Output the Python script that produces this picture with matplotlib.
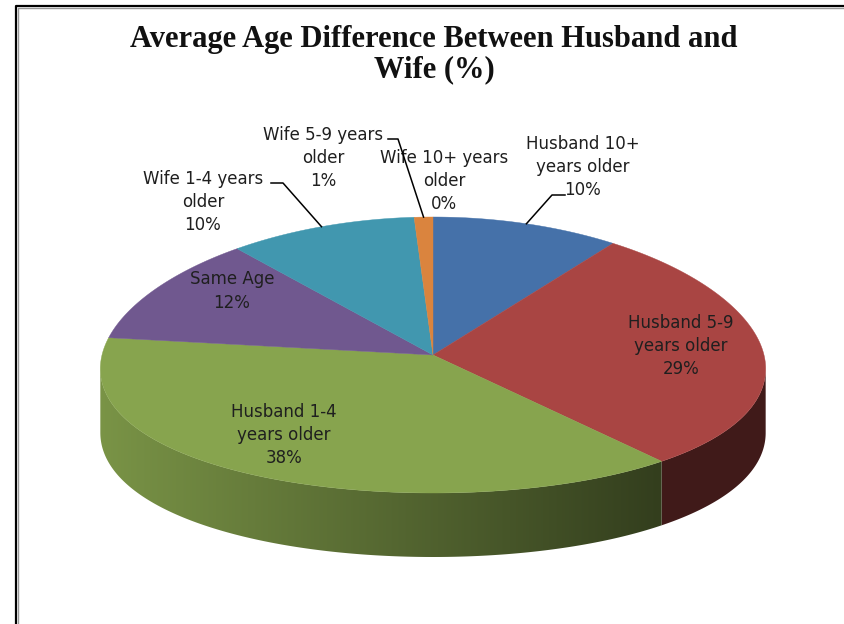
import numpy as np
import matplotlib
matplotlib.use('Agg')
from matplotlib import pyplot as plt
from matplotlib.patches import Polygon
from matplotlib.colors import to_rgb

# data
categories = ['Husband 10+ years older', 'Husband 5-9 years older',
              'Husband 1-4 years older', 'Same Age', 'Wife 1-4 years older',
              'Wife 5-9 years older', 'Wife 10+ years older']
shares = [10, 29, 38, 12, 10, 1, 0]
label_text = ['Husband 10+\nyears older', 'Husband 5-9\nyears older',
              'Husband 1-4\nyears older', 'Same Age', 'Wife 1-4 years\nolder',
              'Wife 5-9 years\nolder', 'Wife 10+ years\nolder']
title = 'Average Age Difference Between Husband and\nWife (%)'

colors = ['#4571A9', '#A94543', '#87A44E', '#70588F', '#4197AF', '#DA843E', '#4571A9']

# layout (pixel coords, y down)
W, H = 845, 624
CX, CY = 433, 355
RX, RY = 331, 138
DEPTH = 64
PERSP = 0.1
label_pos = [(583, 167), (681, 346), (284, 435), (232, 291),
             (203, 202), (323, 158), (444, 181)]
# elbow of leader line (text end, bend) or None
leaders = [((565, 195), (552, 195)), None, None, None,
           ((271, 183), (283, 183)), ((388, 139), (398, 139)), None]


def rim(t):
    r = np.radians(t)
    s = 1 / (1 + PERSP * np.cos(r))
    return CX + RX * np.sin(r) * s, CY - RY * np.cos(r)


fig = plt.figure(figsize=(W / 100, H / 100), dpi=100)
ax = fig.add_axes([0, 0, 1, 1])

tt = np.linspace(0, 360, 3601)
xx, _ = rim(tt)
t_right = tt[np.argmax(xx)]
t_left = tt[np.argmin(xx)]
xmin, xmax = xx.min(), xx.max()

bounds = np.concatenate([[0], np.cumsum(shares)]) / sum(shares) * 360

# side walls with left-to-right shading
gx = np.linspace(xmin - 2, xmax + 2, 500)
u = (gx - xmin) / (xmax - xmin)
shade = np.clip(0.9 - 0.62 * u, 0.38, 1)
for i, v in enumerate(shares):
    a0 = max(bounds[i], t_right)
    a1 = min(bounds[i + 1], t_left)
    if v == 0 or a1 <= a0:
        continue
    px, py = rim(np.linspace(a0, a1, 200))
    pts = np.column_stack([np.concatenate([px, px[::-1]]),
                           np.concatenate([py, py[::-1] + DEPTH])])
    clip = Polygon(pts, closed=True, facecolor='none', edgecolor='none')
    ax.add_patch(clip)
    img = shade[None, :, None] * np.array(to_rgb(colors[i]))[None, None, :]
    im = ax.imshow(img, extent=(gx[0], gx[-1], CY + RY + DEPTH + 10, CY - 20),
                   aspect='auto', interpolation='bilinear', zorder=1)
    im.set_clip_path(clip)

# top faces
for i, v in enumerate(shares):
    if v == 0:
        continue
    px, py = rim(np.linspace(bounds[i], bounds[i + 1], 200))
    pts = np.column_stack([np.concatenate([[CX], px]), np.concatenate([[CY], py])])
    ax.add_patch(Polygon(pts, closed=True, facecolor=colors[i], edgecolor=colors[i],
                         linewidth=0.3, zorder=2))

# labels and leader lines
for i, v in enumerate(shares):
    x, y = label_pos[i]
    ax.text(x, y, f'{label_text[i]}\n{v}%', ha='center', va='center',
            fontsize=12, family='DejaVu Sans', color='#1f1f1f',
            linespacing=1.36, zorder=4)
    if leaders[i] is not None:
        mid = (bounds[i] + bounds[i + 1]) / 2
        ex, ey = rim(mid)
        (x0, y0), (x1, y1) = leaders[i]
        ax.plot([x0, x1, ex], [y0, y1, ey], color='black', lw=1.1, zorder=5)

ax.text(434, 55, title, ha='center', va='center', fontsize=22,
        family='Liberation Serif', weight='bold', linespacing=1.05, color='#111111')

# chart frame
ax.plot([16, 16, W], [H, 6, 6], color='black', lw=1.6, zorder=6)
ax.plot([18, 18, W], [H, 8, 8], color='#999999', lw=1.0, zorder=6)

ax.set_xlim(0, W)
ax.set_ylim(H, 0)
ax.set_aspect('auto')
ax.axis('off')
fig.savefig('out.png', dpi=100)
